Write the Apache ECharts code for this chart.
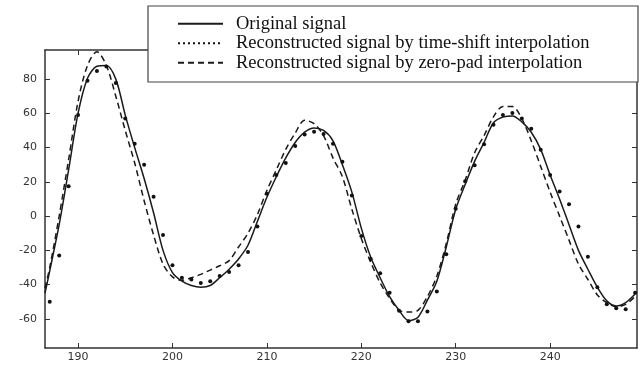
<!DOCTYPE html>
<html>
<head>
<meta charset="utf-8">
<script src="https://cdn.jsdelivr.net/npm/echarts@6/dist/echarts.min.js"></script>
<style>
  html, body { margin: 0; padding: 0; background: #fff; }
  #container { width: 641px; height: 367px; }
</style>
</head>
<body>
<div id="container"></div>
<script>
// sample positions
var lineX = [186.5, 187, 188, 189, 190, 191, 192, 193, 194, 195, 196, 197, 198, 199,
  200, 201, 202, 203, 204, 205, 206, 207, 208, 209, 210, 211, 212, 213, 214, 215, 216, 217, 218, 219,
  220, 221, 222, 223, 224, 225, 226, 227, 228, 229, 230, 231, 232, 233, 234, 235, 236, 237, 238, 239,
  240, 241, 242, 243, 244, 245, 246, 247, 248, 249];
var dotX = [187, 188, 189, 190, 191, 192, 193, 194, 195, 196, 197, 198, 199,
  200, 201, 202, 203, 204, 205, 206, 207, 208, 209, 210, 211, 212, 213, 214, 215, 216, 217, 218, 219,
  220, 221, 222, 223, 224, 225, 226, 227, 228, 229, 230, 231, 232, 233, 234, 235, 236, 237, 238, 239,
  240, 241, 242, 243, 244, 245, 246, 247, 248, 249];

// Original signal
var original = [-45, -32, -5, 27, 60, 80.5, 87.5, 88, 80, 59, 40, 22, 2, -20,
  -33, -38, -40.5, -41.5, -40.5, -36, -31, -25, -17, -3, 11, 23, 34, 43, 49, 51.5, 50, 44, 30, 14,
  -7, -24, -36, -47, -55, -61, -59, -49, -38, -18, 4, 18.5, 32, 43, 54.5, 57.8, 58.5, 55, 49, 39,
  24, 10, -5, -20, -31, -41.5, -49.5, -52.5, -50.5, -45.5];
// time-shift interpolation (dotted)
var timeShift = [-50, -23, 17.5, 59, 79, 84.7, 87.4, 77.7, 57, 42.3, 30, 11.3, -11,
  -28.7, -36, -37, -39, -38, -35, -32.6, -28.7, -21, -6, 13, 24, 31, 41, 47.6, 49.3, 48, 42.3, 31.7, 12,
  -11.6, -25, -33.4, -44.7, -55.3, -61.4, -61.4, -55.7, -44, -22.3, 4.3, 20.4, 29.7, 42, 53.4, 59, 60.2, 57, 51, 38.8,
  24, 14.4, 7, -6, -23.7, -41.6, -51.5, -53.8, -54.4, -44.7];
// zero-pad interpolation (dashed)
var zeroPad = [-42, -30, 0, 33, 67, 88, 96, 88, 70, 50, 31, 9, -11, -28,
  -35.5, -37.5, -36, -34, -31.5, -29, -26, -18, -10, 1, 15, 27, 39, 48.5, 56, 54, 47, 34, 23, 4,
  -13, -27, -39, -48, -55, -56, -55, -47, -35, -16, 7, 21, 37, 47, 58, 64, 64, 57, 44, 29,
  14, 0, -14, -28, -37, -46, -50.5, -53, -51.5, -47];

var xTicks = [190, 200, 210, 220, 230, 240];
var yTicks = [-60, -40, -20, 0, 20, 40, 60, 80];

var names = ['Original signal',
  'Reconstructed signal by time-shift interpolation',
  'Reconstructed signal by zero-pad interpolation'];

function pairs(xs, ys) {
  return xs.map(function (x, i) { return [x, ys[i]]; });
}

var axisLine = { show: true, onZero: false, lineStyle: { color: '#333', width: 1.5 } };
var tickLine = { color: '#333', width: 1 };

var myChart = echarts.init(document.getElementById('container'));
var option = {
  backgroundColor: '#fff',
  animation: false,
  grid: { left: 45, right: 4, top: 50, bottom: 19 },
  graphic: [{
    type: 'rect', z: 10,
    shape: { x: 148, y: 6, width: 490, height: 76 },
    style: { fill: '#fff', stroke: '#444', lineWidth: 1.2 }
  }],
  legend: {
    z: 20,
    orient: 'vertical',
    left: 148, top: 6,
    padding: [8, 0, 0, 29],
    itemWidth: 45, itemHeight: 14, itemGap: 0,
    selectedMode: false,
    itemStyle: { opacity: 0 },
    textStyle: { fontFamily: 'Liberation Serif', fontSize: 18.5, lineHeight: 19.5, color: '#111', padding: [0, 0, 0, 8] },
    data: [
      { name: names[0] },
      { name: names[1], lineStyle: { type: [2, 3], width: 2, color: '#111', opacity: 1 } },
      { name: names[2] }
    ]
  },
  xAxis: [{
    type: 'value', min: 186.5, max: 249.2,
    axisLine: axisLine,
    axisTick: { inside: true, length: 5, customValues: xTicks, lineStyle: tickLine },
    axisLabel: { customValues: xTicks, margin: 4, fontFamily: 'DejaVu Sans', fontSize: 11, color: '#333' },
    splitLine: { show: false }
  }, {
    type: 'value', position: 'top', min: 186.5, max: 249.2,
    axisLine: axisLine,
    axisTick: { inside: true, length: 5, customValues: xTicks, lineStyle: tickLine },
    axisLabel: { show: false },
    splitLine: { show: false }
  }],
  yAxis: [{
    type: 'value', min: -77, max: 97,
    axisLine: axisLine,
    axisTick: { inside: true, length: 5, customValues: yTicks, lineStyle: tickLine },
    axisLabel: { customValues: yTicks, margin: 8, fontFamily: 'DejaVu Sans', fontSize: 11, color: '#333' },
    splitLine: { show: false }
  }, {
    type: 'value', position: 'right', min: -77, max: 97,
    axisLine: axisLine,
    axisTick: { inside: true, length: 5, customValues: yTicks, lineStyle: tickLine },
    axisLabel: { show: false },
    splitLine: { show: false }
  }],
  series: [{
    name: names[0], type: 'line', smooth: 0.3, symbol: 'none',
    lineStyle: { color: '#1a1a1a', width: 1.5, type: 'solid' },
    itemStyle: { color: '#1a1a1a' },
    data: pairs(lineX, original)
  }, {
    name: names[1], type: 'line', symbol: 'circle', symbolSize: 4,
    lineStyle: { opacity: 0, width: 0 },
    itemStyle: { color: '#111' },
    data: pairs(dotX, timeShift)
  }, {
    name: names[2], type: 'line', smooth: 0.3, symbol: 'none',
    lineStyle: { color: '#1a1a1a', width: 1.5, type: [6, 4] },
    itemStyle: { color: '#1a1a1a' },
    data: pairs(lineX, zeroPad)
  }]
};
myChart.setOption(option);
</script>
</body>
</html>
